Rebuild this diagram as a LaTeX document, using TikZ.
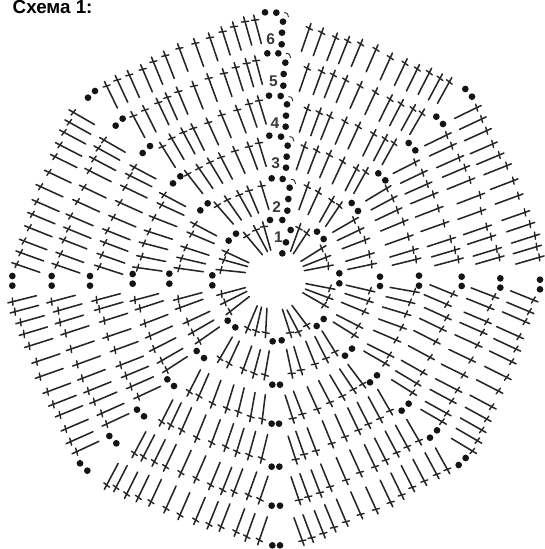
\documentclass[tikz,border=0pt]{standalone}
\usepackage{fontspec}
\setmainfont{Liberation Sans}
\tikzset{
  stitchline/.style={line width=1.55pt,color=black!85,line cap=round},
  stitchbar/.style={line width=1.4pt,color=black!85,line cap=round},
  hookline/.style={line width=0.9pt,color=black!85},
  rowlabel/.style={font=\bfseries\fontsize{15.5}{16}\selectfont,color=black!78,inner sep=0pt},
  titlelabel/.style={font=\bfseries\fontsize{18.8}{19}\selectfont,inner sep=0pt,anchor=north west}
}
\newcommand\setoff[2]{\def\ox{#1}\def\oy{#2}}
\newcommand\strow[4]{%
  \foreach \px/\py [count=\i] in {#4}{%
    \pgfmathsetmacro\t{#2+(#3-(#2))*(\i-1)/max(#1-1,1)}%
    \pgfmathsetmacro\cx{\ox+\px/3}%
    \pgfmathsetmacro\cy{\oy+\py/3}%
    \pgfmathsetmacro\ux{sin(\t)}%
    \pgfmathsetmacro\uy{-cos(\t)}%
    \draw[stitchline] ({\cx+5*\ux},{\cy+5*\uy}) -- ({\cx-24.5*\ux},{\cy-24.5*\uy});
    \draw[stitchbar] ({\cx-3.6*\uy-0.6*\ux},{\cy+3.6*\ux-0.6*\uy}) -- ({\cx+3.6*\uy+0.6*\ux},{\cy-3.6*\ux+0.6*\uy});
  }}
\newcommand\dotlist[1]{%
  \foreach \px/\py in {#1}{%
    \fill[black!92] ({\ox+\px/3},{\oy+\py/3}) circle [radius=3.35pt];
  }}
\newcommand\hooklist[1]{%
  \foreach \px/\py in {#1}{%
    \draw[hookline] ({\ox+\px/3},{\oy+\py/3}) .. controls ({\ox+\px/3+3.5},{\oy+\py/3}) and ({\ox+\px/3+4.5},{\oy+\py/3+2}) .. ({\ox+\px/3+4.5},{\oy+\py/3+4.5});
  }}
\begin{document}
\begin{tikzpicture}[x=1pt,y=-1pt]
\useasboundingbox (0,0) rectangle (545,549);
\node[titlelabel] (title) at (12.5,0.5) {Схема 1:};
% wedge A
\setoff{270}{20}
\strow{12}{19}{29}{118/25,155/38,197/53,233/63,272/72,318/88,361/113,405/130,442/147,478/158,510/175,538/186}
\strow{10}{19}{30}{112/145,155/155,190/165,227/180,270/198,316/217,360/238,393/252,429/267,456/280}
\strow{8}{19}{29}{112/267,148/278,180/290,225/305,265/320,311/342,345/357,372/370}
\strow{6}{19}{29}{103/380,140/392,178/405,218/425,259/447,287/456}
\strow{4}{20}{34}{112/500,145/517,185/542,208/558}
\strow{2}{20}{33}{87/625,110/640}
% wedge B
\strow{13}{64}{74}{620/263,635/297,650/332,668/372,688/405,710/437,730/482,745/527,765/577,780/612,795/647,800/680,808/712}
\strow{11}{64}{74}{530/345,545/377,567/413,585/443,600/480,630/525,633/573,650/620,663/650,680/687,688/712}
\strow{9}{63}{75}{435/427,458/458,472/492,490/523,505/565,522/610,542/657,555/690,565/718}
\strow{7}{59}{76}{350/505,368/535,382/570,400/605,415/650,430/690,438/718}
\strow{5}{60}{78}{252/600,268/630,285/660,298/703,305/733}
\strow{3}{58}{79}{155/685,168/712,175/738}
% wedge C, D
\setoff{270}{270}
\strow{3}{101}{120}{180/55,175/83,162/105}
\strow{5}{103}{122}{300/62,295/93,282/125,265/168,252/195}
\strow{7}{100}{120}{433/65,420/97,408/132,395/172,378/210,358/255,345/280}
\strow{9}{112}{122}{548/72,530/103,530/143,515/177,497/215,480/262,458/307,440/340,427/368}
\strow{11}{111}{120}{672/80,658/113,650/155,637/187,622/225,603/270,580/315,562/360,545/393,530/430,516/455}
\strow{13}{112}{121}{790/90,778/125,765/155,747/200,738/237,725/275,710/322,685/363,665/410,650/447,635/480,622/512,607/543}
\strow{3}{162}{143}{60/188,85/185,110/165}
\strow{5}{168}{148}{65/310,93/300,135/282,168/265,195/245}
\strow{7}{162}{143}{68/445,97/432,142/417,180/397,217/378,250/358,278/342}
\strow{9}{162}{150}{77/568,102/553,138/542,185/520,225/500,265/480,295/462,330/445,360/422}
\strow{11}{161}{150}{87/690,115/680,150/668,180/650,228/630,270/607,315/590,347/570,380/548,412/530,447/512}
\strow{13}{160}{151}{97/812,125/803,160/790,192/772,228/755,272/733,318/718,362/697,395/675,427/652,463/633,500/613,532/598}
% wedge E, F
\setoff{0}{270}
\strow{3}{183}{203}{797/188,768/183,743/175}
\strow{5}{190}{210}{795/315,762/310,730/297,687/280,660/265}
\strow{7}{187}{207}{787/447,752/440,715/425,680/415,637/400,597/378,568/365}
\strow{9}{194}{207}{785/565,747/555,710/545,677/530,635/518,590/503,545/480,512/465,485/455}
\strow{11}{199}{208}{780/688,745/675,702/665,668/660,632/645,588/625,543/608,497/590,463/575,430/560,403/550}
\strow{13}{199}{208}{778/810,740/800,708/785,663/770,627/763,587/750,540/735,498/715,453/695,415/682,380/672,348/652,320/645}
\strow{3}{255}{232}{665/72,675/97,690/125}
\strow{5}{255}{235}{535/87,540/113,563/155,578/187,598/213}
\strow{7}{255}{237}{405/90,420/115,435/160,450/198,462/237,485/272,500/300}
\strow{9}{255}{245}{290/90,298/117,313/152,323/200,345/240,362/285,378/317,393/350,415/380}
\strow{11}{255}{245}{155/95,175/122,180/157,197/190,213/237,232/283,247/325,265/363,283/395,305/430,320/462}
\strow{13}{256}{245}{38/95,45/125,62/157,72/192,88/228,110/275,120/320,143/365,160/403,180/435,197/477,212/515,230/545}
% wedge G
\setoff{0}{80}
\strow{13}{289}{300}{50/553,62/518,72/483,88/443,97/403,110/365,122/320,147/277,165/230,180/195,192/157,208/127,220/97}
\strow{11}{289}{300}{170/555,182/522,192/480,205/447,212/408,232/365,252/322,268/272,282/237,295/205,312/180}
\strow{9}{288}{298}{298/560,305/525,315/488,322/452,340/412,360/368,375/322,390/287,403/262}
\strow{7}{278}{298}{413/563,425/530,432/490,447/455,462/413,485/375,492/345}
\strow{5}{278}{298}{537/565,545/535,557/503,575/462,585/433}
\strow{3}{276}{295}{663/570,672/540,680/517}
% wedge H
\strow{7}{322}{343}{563/283,597/265,630/247,663/232,705/213,747/200,777/189}
\strow{9}{328}{343}{487/200,515/175,550/157,580/145,625/128,665/105,712/90,747/72,777/62}
\setoff{90}{10}
\strow{13}{334}{345}{50/228,82/210,118/195,158/178,190/155,226/137,268/115,316/100,360/83,398/65,432/50,465/35,495/30}
\strow{11}{332}{345}{130/318,165/300,205/278,232/262,265/245,312/228,356/205,402/190,437/172,470/160,498/152}
\setoff{180}{0}
\strow{5}{319}{343}{112/617,142/600,178/585,207/572,245/558}
\strow{3}{320}{344}{200/708,228/690,252/680}
% centre column
\dotlist{307/760,318/727,332/690,270/660,307/660,322/632,325/597,329/563,275/535,308/537,318/503,320/470,323/437,268/407,303/410,317/380,318/347,321/313,267/287,302/288,310/257,311/222,316/188,262/160,295/160,305/133,306/98,309/65,255/37,289/38}
\hooklist{312/38,318/160,325/290,328/410,333/538}
\node[rowlabel] (r1) at ({180+295/3},{712/3}) {1};
\node[rowlabel] (r2) at ({180+290/3},{620/3}) {2};
\node[rowlabel] (r3) at ({180+287/3},{490/3}) {3};
\node[rowlabel] (r4) at ({180+285/3},{368/3}) {4};
\node[rowlabel] (r5) at ({180+280/3},{243/3}) {5};
\node[rowlabel] (r6) at ({180+272/3},{118/3}) {6};
% diagonal and axis pairs
\setoff{0}{80}
\dotlist{285/33,264/53,368/116,347/137,450/198,428/219,541/289,519/310,623/370,601/391,708/461,686/482,37/588,37/617,155/588,155/617,270/588,270/617,398/582,398/611,508/581,508/611,637/586,637/616}
\setoff{270}{20}
\dotlist{586/207,606/230,499/290,519/312,416/369,436/391,325/460,346/481,245/549,264/573,141/635,161/657}
\setoff{270}{270}
\dotlist{208/10,208/40,330/20,330/48,447/17,447/47,575/20,575/48,691/25,691/53,810/29,810/58,161/147,140/168,246/236,225/257,321/316,300/337,416/401,395/422,501/481,480/503,587/564,566/585,8/214,35/211,7/344,30/344,5/461,27/461,5/590,28/590,5/707,30/707,7/826,30/826}
\setoff{0}{270}
\dotlist{683/152,706/172,590/243,612/264,502/328,522/348,411/419,432/439,328/498,349/520,240/580,262/602}
\end{tikzpicture}
\end{document}
